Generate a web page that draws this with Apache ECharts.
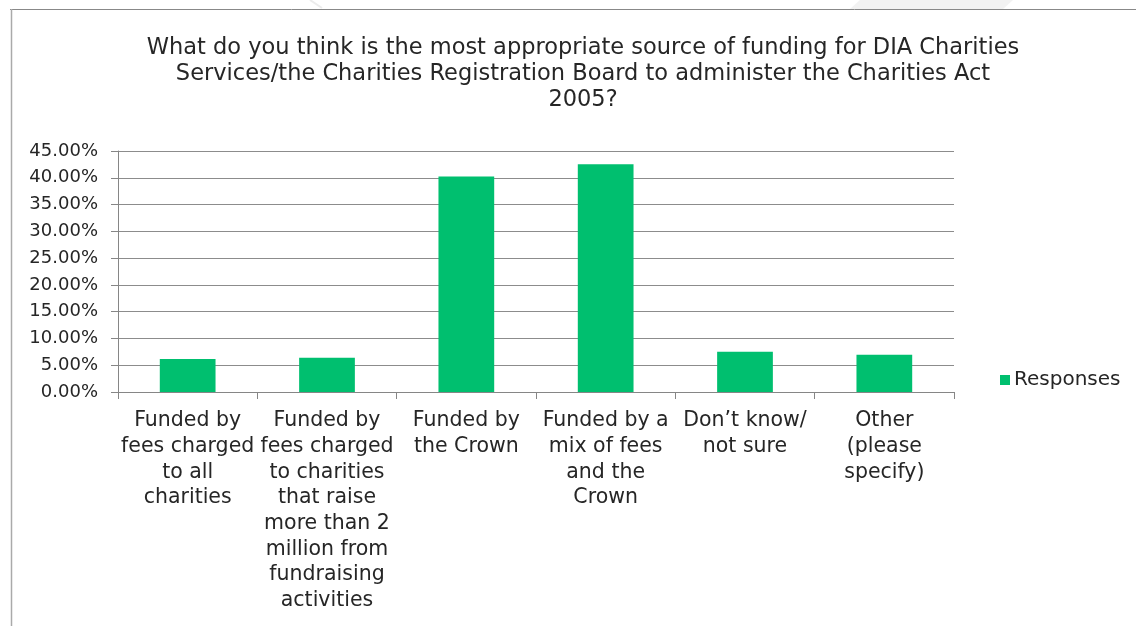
<!DOCTYPE html>
<html>
<head>
<meta charset="utf-8">
<script src="https://cdn.jsdelivr.net/npm/echarts@6/dist/echarts.min.js"></script>
<style>
html,body{margin:0;padding:0;background:#fff;}
#chart{width:1136px;height:626px;}
</style>
</head>
<body>
<div id="chart"></div>
<script>
const titleText = "What do you think is the most appropriate source of funding for DIA Charities\nServices/the Charities Registration Board to administer the Charities Act\n2005?";
const categories = [
  "Funded by\nfees charged\nto all\ncharities",
  "Funded by\nfees charged\nto charities\nthat raise\nmore than 2\nmillion from\nfundraising\nactivities",
  "Funded by\nthe Crown",
  "Funded by a\nmix of fees\nand the\nCrown",
  "Don\u2019t know/\nnot sure",
  "Other\n(please\nspecify)"
];
const responses = [6.15, 6.39, 40.23, 42.52, 7.51, 6.95];
const seriesName = "Responses";
const yMin = 0, yMax = 45, yStep = 5;

const FONT = "DejaVu Sans";
const TXT = "#262626";
const chart = echarts.init(document.getElementById('chart'));
chart.setOption({
  animation: false,
  backgroundColor: '#fff',
  textStyle: {fontFamily: FONT},
  graphic: [
    {type:'polygon', silent:true, shape:{points:[[860,0],[1013,0],[1003,9],[850,9]]}, style:{fill:'#f2f2f2'}},
    {type:'line', silent:true, shape:{x1:310,y1:0,x2:322,y2:8}, style:{stroke:'#ececec', lineWidth:2}},
    {type:'line', silent:true, shape:{x1:10,y1:9.5,x2:1136,y2:9.5}, style:{stroke:'#888888', lineWidth:1}},
    {type:'line', silent:true, shape:{x1:11.5,y1:9,x2:11.5,y2:626}, style:{stroke:'#aaaaaa', lineWidth:1.5}}
  ],
  title: {
    text: titleText,
    left: 578, top: 30, textAlign: 'center',
    textStyle: {fontFamily: FONT, fontSize: 22.5, fontWeight: 'normal', color: TXT, lineHeight: 26}
  },
  legend: {
    data: [seriesName],
    left: 995, top: 365,
    itemWidth: 10, itemHeight: 10, itemGap: 6,
    icon: 'rect',
    textStyle: {fontFamily: FONT, fontSize: 20, color: TXT, padding:[0,0,0,-1]}
  },
  grid: {left: 118, right: 182, top: 151, bottom: 234, containLabel: false},
  xAxis: {
    type: 'category',
    data: categories,
    axisLine: {lineStyle: {color: '#868686', width: 1}},
    axisTick: {show: true, alignWithLabel: false, length: 7, lineStyle: {color: '#868686'}},
    axisLabel: {interval: 0, fontFamily: FONT, fontSize: 20.5, color: TXT, lineHeight: 25.7, margin: 16, align: 'center'}
  },
  yAxis: {
    type: 'value',
    min: yMin, max: yMax, interval: yStep,
    axisLine: {show: true, lineStyle: {color: '#868686', width: 1}},
    axisTick: {show: true, length: 7, lineStyle: {color: '#868686'}},
    splitLine: {show: true, lineStyle: {color: '#8c8c8c', width: 1}},
    axisLabel: {fontFamily: FONT, fontSize: 18, color: TXT, margin: 20, formatter: v => v.toFixed(2) + '%'}
  },
  series: [{
    name: seriesName,
    type: 'bar',
    data: responses,
    barWidth: '40%',
    itemStyle: {color: '#00BF6F'}
  }]
});
</script>
</body>
</html>
